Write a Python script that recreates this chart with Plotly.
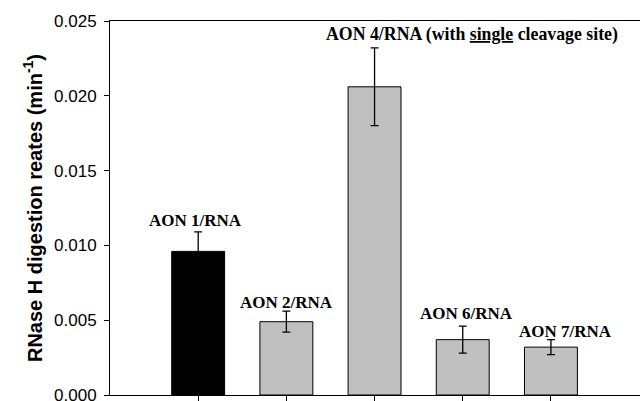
import plotly.graph_objects as go

# ---- data ----
labels = ["AON 1/RNA", "AON 2/RNA",
          "AON 4/RNA (with <u>single</u> cleavage site)",
          "AON 6/RNA", "AON 7/RNA"]
rates = [0.0096, 0.0049, 0.0206, 0.0037, 0.0032]
errors = [0.0013, 0.0007, 0.0026, 0.0009, 0.0005]
bar_colors = ["#000000", "#c0c0c0", "#c0c0c0", "#c0c0c0", "#c0c0c0"]
y_ticks = [0.000, 0.005, 0.010, 0.015, 0.020, 0.025]
y_ticktext = ["0.000", "0.005", "0.010", "0.015", "0.020", "0.025"]

# label anchor positions (category offset, data y)
label_dx = [-0.03, 0.0, 1.11, 0.04, 0.17]
label_y = [0.01165, 0.00619, 0.02409, 0.00542, 0.00422]
label_sizes = [17, 17, 17.8, 17, 17]

xpos = list(range(1, len(rates) + 1))

fig = go.Figure()
fig.add_trace(go.Bar(
    x=xpos, y=rates, width=0.6,
    marker=dict(color=bar_colors, line=dict(color="#000000", width=1)),
    error_y=dict(type="data", array=errors, visible=True,
                 color="#000000", thickness=1.3, width=4),
    showlegend=False,
))

for i, (lab, dx, ly, fs) in enumerate(zip(labels, label_dx, label_y, label_sizes)):
    fig.add_annotation(
        x=xpos[i] + dx, y=ly, xref="x", yref="y", text="<b>" + lab + "</b>",
        showarrow=False, xanchor="center", yanchor="middle",
        font=dict(family="Liberation Serif", size=fs, color="#000000"),
    )

fig.update_layout(
    width=640, height=401,
    margin=dict(l=110, r=0, t=21, b=6),
    paper_bgcolor="white", plot_bgcolor="white",
    bargap=0.4,
)
fig.update_xaxes(
    range=[0, 6.01], tickvals=xpos, showticklabels=False, automargin=False,
    ticks="outside", ticklen=7, tickwidth=1, tickcolor="#000000",
    showline=True, linecolor="#000000", linewidth=1, mirror=True,
    showgrid=False, zeroline=False,
)
fig.update_yaxes(
    range=[0, 0.025], tickvals=y_ticks, ticktext=y_ticktext, automargin=False,
    ticks="outside", ticklen=5, tickwidth=1, tickcolor="#000000",
    showline=True, linecolor="#000000", linewidth=1,
    showgrid=False, zeroline=False, ticklabeloverflow="allow",
    ticklabelstandoff=4,
    tickfont=dict(family="Liberation Sans", size=17, color="#000000"),
    title=dict(text="<b>RNase H digestion reates (min<sup>-1</sup>)</b>",
               font=dict(family="Liberation Sans", size=20, color="#000000"),
               standoff=6),
)

fig.write_html("out.html",
               config={"displayModeBar": False},
               post_script="document.body.style.margin='0';document.body.style.overflow='hidden';")
